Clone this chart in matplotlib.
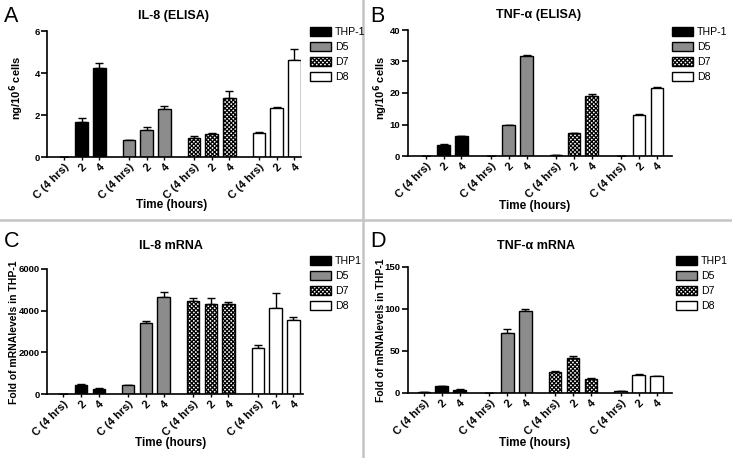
import numpy as np
import matplotlib
matplotlib.use("Agg")
import matplotlib.pyplot as plt
from matplotlib.patches import Patch
from matplotlib.lines import Line2D

plt.rcParams['font.family'] = ['Liberation Sans', 'DejaVu Sans']
plt.rcParams['hatch.linewidth'] = 0.9

groups = ['THP-1', 'D5', 'D7', 'D8']
groups_mrna = ['THP1', 'D5', 'D7', 'D8']
times = ['C (4 hrs)', '2', '4']

# panel A: IL-8 (ELISA), ng/10^6 cells
il8_elisa = [[0, 1.68, 4.26], [0.79, 1.29, 2.27], [0.92, 1.08, 2.83], [1.16, 2.31, 4.64]]
il8_elisa_err = [[0, 0.20, 0.20], [0.04, 0.12, 0.18], [0.10, 0.07, 0.33], [0.03, 0.05, 0.50]]

# panel B: TNF-a (ELISA)
tnf_elisa = [[0, 3.6, 6.2], [0.15, 9.7, 31.6], [0.3, 7.2, 18.9], [0.1, 13.1, 21.5]]
tnf_elisa_err = [[0, 0.2, 0.2], [0, 0.2, 0.4], [0, 0.2, 0.9], [0, 0.2, 0.5]]

# panel C: IL-8 mRNA, fold of THP-1
il8_mrna = [[0, 410, 250], [430, 3400, 4680], [4470, 4300, 4300], [2230, 4120, 3530]]
il8_mrna_err = [[0, 50, 30], [20, 90, 230], [150, 290, 120], [130, 720, 180]]

# panel D: TNF-a mRNA
tnf_mrna = [[1.0, 8.0, 3.8], [0.5, 72, 98], [25.3, 41.6, 16.8], [1.8, 22.0, 20.3]]
tnf_mrna_err = [[0, 0.4, 0.4], [0, 4, 2], [1.2, 2.4, 0.6], [0, 0.4, 0]]

faces = ['black', '#8c8c8c', 'white', 'white']
hatches = [None, None, 'xxxxxxxx', None]

W, H = 732, 458
fig = plt.figure(figsize=(W / 100, H / 100), dpi=100)


def px(x0, y0, x1, y1):
    return [x0 / W, 1 - y1 / H, (x1 - x0) / W, (y1 - y0) / H]


def ftext(x, y, s, **kw):
    return fig.text(x / W, 1 - y / H, s, **kw)


def panel(rect, vals, errs, names, title, ylabel, yticks, letter, letter_xy,
          title_xy, leg_xy, ylab_xy, xlab_xy, gap_l, gap_r, ylab_size):
    ax = fig.add_axes(rect)
    stride = 3.66
    pos_all = []
    for g in range(4):
        pos = g * stride + np.arange(3)
        pos_all.extend(pos)
        ax.bar(pos, vals[g], width=0.7, color=faces[g], edgecolor='black',
               linewidth=1.0, hatch=hatches[g], zorder=2)
        up = np.array(errs[g])
        ax.errorbar(pos, vals[g], yerr=[np.zeros(3), up], fmt='none',
                    ecolor='black', elinewidth=1.0, capsize=3, capthick=1.0,
                    zorder=1)
    ax.set_xlim(-gap_l, 3 * stride + 2 + gap_r)
    ax.set_ylim(0, yticks[-1])
    ax.set_yticks(yticks)
    ax.set_xticks(pos_all)
    ax.set_xticklabels(times * 4, rotation=45, ha='right',
                       rotation_mode='anchor', fontsize=8, fontweight='bold')
    for lab in ax.get_yticklabels():
        lab.set_fontweight('bold')
        lab.set_fontsize(6.8)
    for s in ['top', 'right']:
        ax.spines[s].set_visible(False)
    for s in ['left', 'bottom']:
        ax.spines[s].set_linewidth(1.2)
    ax.tick_params(axis='y', length=4, width=1.2, pad=1.5)
    ax.tick_params(axis='x', length=2.5, width=1.0, pad=1)
    ftext(*xlab_xy, 'Time (hours)', ha='center', va='center', fontsize=8.5,
          fontweight='bold')
    ftext(*ylab_xy, ylabel, ha='center', va='center', rotation=90,
          fontsize=ylab_size, fontweight='bold')
    ftext(*title_xy, title, ha='center', va='center', fontsize=9,
          fontweight='bold')
    ftext(*letter_xy, letter, ha='left', va='top', fontsize=15.5)
    handles = [Patch(facecolor=faces[i], edgecolor='black', linewidth=1.0,
                     hatch=hatches[i]) for i in range(4)]
    fig.legend(handles, names, loc='upper left',
               bbox_to_anchor=(leg_xy[0] / W, 1 - leg_xy[1] / H),
               frameon=False, fontsize=7.6, handlelength=2.0, handleheight=0.95,
               handletextpad=0.35, labelspacing=0.45, borderpad=0,
               borderaxespad=0)
    return ax


panel(px(47.3, 31, 300.7, 157), il8_elisa, il8_elisa_err, groups,
      'IL-8 (ELISA)', r'ng/10$^\mathbf{6}$ cells', [0, 2, 4, 6], 'A',
      (4, 6), (174, 16), (310, 27), (17, 88), (172, 205), 0.93, 0.36, 8)
panel(px(408, 30, 671.7, 156), tnf_elisa, tnf_elisa_err, groups,
      'TNF-α (ELISA)', r'ng/10$^\mathbf{6}$ cells', [0, 10, 20, 30, 40],
      'B', (370, 6), (539, 15), (672, 27), (380.5, 88), (535, 206), 1.0, 0.84, 8)
panel(px(47.3, 269, 303.3, 394), il8_mrna, il8_mrna_err, groups_mrna,
      'IL-8 mRNA', 'Fold of mRNAlevels in THP-1', [0, 2000, 4000, 6000],
      'C', (4, 231), (171, 246), (310, 256), (14.5, 332), (171, 443), 0.9, 0.56, 7.5)
panel(px(408, 267, 671.7, 393), tnf_mrna, tnf_mrna_err, groups_mrna,
      'TNF-α mRNA', 'Fold of mRNAlevels in THP-1', [0, 50, 100, 150],
      'D', (370, 231), (536, 246), (676, 256), (380.5, 330), (535, 443), 0.88, 0.84, 7.5)

# panel separators
fig.add_artist(Line2D([0, 1], [1 - 220 / H, 1 - 220 / H], color='#c4c4c4',
                      linewidth=1.8, transform=fig.transFigure))
fig.add_artist(Line2D([363 / W, 363 / W], [0, 1], color='#c4c4c4',
                      linewidth=1.8, transform=fig.transFigure))

fig.savefig('out.png', dpi=100)
